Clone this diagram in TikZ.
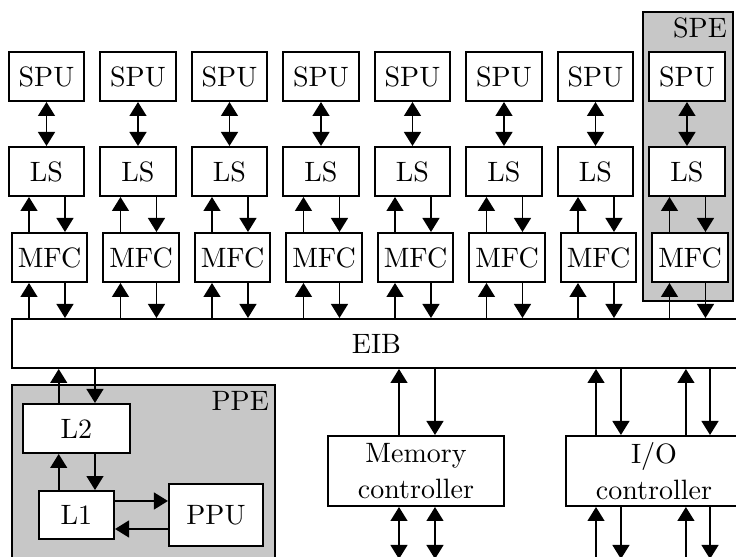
\documentclass[tikz,border=0pt]{standalone}
\usepackage{tikz}
\usetikzlibrary{arrows.meta, positioning}

\begin{document}
\begin{tikzpicture}[
    x=0.357pt, y=-0.357pt,
    >={Triangle[length=5pt, width=6pt]},
    unit/.style = {draw, fill=white, line width=0.7pt, minimum width=26.8pt,
                   minimum height=17.5pt, inner sep=1pt, align=center},
    grp/.style = {draw, fill=black!22, line width=0.7pt},
    grplbl/.style = {anchor=north east, inner sep=2pt},
    every edge/.style = {draw, line width=0.7pt, ->}
  ]
  % frame of the picture (in px of the page, y downwards)
  \useasboundingbox (0,0) rectangle (736,557);
  \clip (0,0) rectangle (736,557);

  % shaded groups first, so the white boxes sit on top
  \draw[grp] (643,12) rectangle (733,301);
  \node[grplbl] (spelbl) at (733,12) {SPE};
  \draw[grp] (12,385) rectangle (275,600);
  \node[grplbl] (ppelbl) at (275,385) {PPE};

  % eight SPU / LS / MFC columns
  \foreach \i [evaluate=\i as \cx using 46.5+91.5*(\i-1)] in {1,...,8} {
    \node[unit] (spu\i) at (\cx, 76.5)    {SPU};
    \node[unit] (ls\i)  at (\cx, 171.5)   {LS};
    \node[unit] (mfc\i) at (\cx+3, 257.5) {MFC};
  }

  % bus and the blocks below it
  \node[unit, minimum width=260.3pt] (eib) at (376.5, 343.5) {EIB};
  \node[unit, minimum width=38.2pt]  (l2)  at (76.5, 428.5) {L2};
  \node[unit, minimum height=17.1pt] (l1)  at (76.5, 515)   {L1};
  \node[unit, minimum width=33.6pt, minimum height=22.1pt] (ppu) at (216, 515) {PPU};
  \node[unit, minimum width=62.8pt, minimum height=25pt] (mem) at (416, 471) {Memory\\[1pt]controller};
  \node[unit, minimum width=62.8pt, minimum height=25pt] (io)  at (654, 471) {I/O\\[1pt]controller};
  \coordinate (bot) at (416, 559);

  % column connectors
  \foreach \i in {1,...,8} {
    \path (spu\i) edge[<->] (ls\i);
    \path ([xshift=-6.25pt]ls\i.south |- mfc\i.north) edge ([xshift=-6.25pt]ls\i.south);
    \path ([xshift=6.6pt]ls\i.south) edge ([xshift=6.6pt]ls\i.south |- mfc\i.north);
    \path ([xshift=-6.25pt]ls\i.south |- eib.north) edge ([xshift=-6.25pt]ls\i.south |- mfc\i.south);
    \path ([xshift=6.6pt]ls\i.south |- mfc\i.south) edge ([xshift=6.6pt]ls\i.south |- eib.north);
  }

  % PPE
  \path ([xshift=-6.35pt]l2.north) edge ([xshift=-6.35pt]l2.north |- eib.south);
  \path ([xshift=6.6pt]l2.north |- eib.south) edge ([xshift=6.6pt]l2.north);
  \path ([xshift=-6.35pt]l1.north) edge ([xshift=-6.35pt]l1.north |- l2.south);
  \path ([xshift=6.6pt]l2.south) edge ([xshift=6.6pt]l2.south |- l1.north);
  \path ([yshift=5pt]l1.east) edge ([yshift=5pt]l1.east -| ppu.west);
  \path ([yshift=-5pt]ppu.west) edge ([yshift=-5pt]ppu.west -| l1.east);

  % memory controller
  \path ([xshift=-6.07pt]mem.north) edge ([xshift=-6.07pt]mem.north |- eib.south);
  \path ([xshift=6.78pt]mem.north |- eib.south) edge ([xshift=6.78pt]mem.north);
  \path ([xshift=-6.07pt]mem.south) edge[<->] ([xshift=-6.07pt]mem.south |- bot);
  \path ([xshift=6.78pt]mem.south) edge[<->] ([xshift=6.78pt]mem.south |- bot);

  % I/O controller
  \path ([xshift=-20.7pt]io.north) edge ([xshift=-20.7pt]io.north |- eib.south);
  \path ([xshift=-11.8pt]io.north |- eib.south) edge ([xshift=-11.8pt]io.north);
  \path ([xshift=11.4pt]io.north) edge ([xshift=11.4pt]io.north |- eib.south);
  \path ([xshift=20pt]io.north |- eib.south) edge ([xshift=20pt]io.north);
  \path ([xshift=-20.7pt]io.south |- bot) edge ([xshift=-20.7pt]io.south);
  \path ([xshift=-11.8pt]io.south) edge ([xshift=-11.8pt]io.south |- bot);
  \path ([xshift=11.4pt]io.south |- bot) edge ([xshift=11.4pt]io.south);
  \path ([xshift=20pt]io.south) edge ([xshift=20pt]io.south |- bot);
\end{tikzpicture}
\end{document}
